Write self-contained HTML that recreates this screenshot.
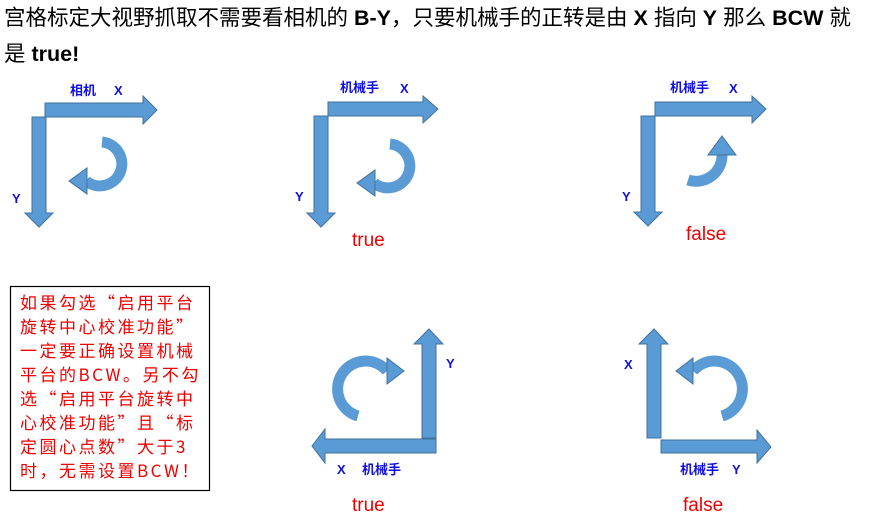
<!DOCTYPE html>
<html><head><meta charset="utf-8"><style>
body{margin:0;background:#fff;width:870px;height:521px;overflow:hidden}
svg{position:absolute;left:0;top:0}
</style></head><body>
<svg width="870" height="521" viewBox="0 0 870 521" font-family="'Liberation Sans','Noto Sans CJK SC',sans-serif">
<g fill="#000" font-size="21.5">
<text x="4" y="25">宫格标定大视野抓取不需要看相机的 <tspan font-weight="bold">B-Y</tspan>，只要机械手的正转是由 <tspan font-weight="bold">X</tspan> 指向 <tspan font-weight="bold">Y</tspan> 那么 <tspan font-weight="bold">BCW</tspan> 就</text>
<text x="4" y="61">是 <tspan font-weight="bold">true!</tspan></text>
</g>
<g fill="#5b9bd5" stroke="#41719c" stroke-width="1">
<polygon points="45,103 143,103 143,96 157,110 143,124 143,117 45,117"/>
<polygon points="32,117 46,117 46,213 53,213 39,227 25,213 32,213"/>
<polygon points="328,102 423,102 423,96 438,109 423,123 423,116 328,116"/>
<polygon points="314,116 328,116 328,213 335,213 321,227 307,213 314,213"/>
<polygon points="655,102 752,102 752,96 766,109 752,123 752,116 655,116"/>
<polygon points="641,116 655,116 655,212 662,212 648,226 634,212 641,212"/>
<polygon points="422,438 422,344 414,344 429,329 443,344 436,344 436,438"/>
<polygon points="436,439 325,439 325,429 312,446 325,463 325,453 436,453"/>
<polygon points="647,438 647,344 639,344 654,329 668,344 661,344 661,438"/>
<polygon points="661,440 757,440 757,430 771,447 757,463 757,453 661,453"/>
</g>
<g fill="none" stroke="#5b9bd5" stroke-width="11">
<path d="M102,142 A22,22 0 1 1 86,181"/>
<path d="M390,144 A22,22 0 1 1 374,183"/>
<path d="M688,180 A26,26 0 0 0 722,154"/>
<path d="M358,416 A28,28 0 1 1 387,371"/>
<path d="M722,416 A28,28 0 1 0 693,371"/>
</g>
<g fill="#5b9bd5" stroke="#41719c" stroke-width="1">
<polygon points="87,168 87,194 69,181"/>
<polygon points="375,170 375,196 357,183"/>
<polygon points="708,155 736,155 722,136"/>
<polygon points="387,358 387,384 404,371"/>
<polygon points="693,358 693,384 676,371"/>
</g>
<g fill="#1010e0" font-size="13" font-weight="bold">
<text x="70" y="95">相机</text><text x="114" y="95">X</text>
<text x="340" y="92">机械手</text><text x="400" y="93">X</text>
<text x="670" y="92">机械手</text><text x="729" y="93">X</text>
<text x="12" y="203">Y</text><text x="295" y="201">Y</text><text x="622" y="201">Y</text>
<text x="446" y="368">Y</text><text x="624" y="369">X</text>
<text x="337" y="474">X</text><text x="362" y="474">机械手</text>
<text x="680" y="474">机械手</text><text x="732" y="474">Y</text>
</g>
<g fill="#ee0000" font-size="19">
<text x="352" y="246">true</text><text x="686" y="240">false</text>
<text x="352" y="511">true</text><text x="683" y="511">false</text>
</g>
<rect x="10.5" y="286.5" width="199" height="204" fill="none" stroke="#000" stroke-width="1.2"/>
<g fill="#ee0000" font-size="17" letter-spacing="2.5" font-family="'Noto Sans CJK SC',sans-serif">
<text x="20" y="309">如果勾选“启用平台</text>
<text x="20" y="333">旋转中心校准功能”</text>
<text x="20" y="357">一定要正确设置机械</text>
<text x="20" y="381">平台的BCW。另不勾</text>
<text x="20" y="405">选“启用平台旋转中</text>
<text x="20" y="429">心校准功能”且“标</text>
<text x="20" y="453">定圆心点数”大于3</text>
<text x="20" y="477">时，无需设置BCW！</text>
</g>
</svg>
</body></html>
